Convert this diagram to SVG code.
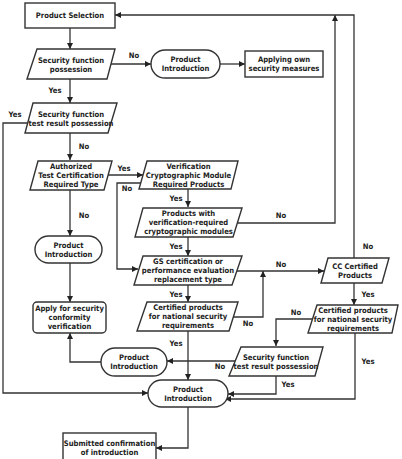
<svg xmlns="http://www.w3.org/2000/svg" width="402" height="459" viewBox="0 0 402 459">
<style>
.n{fill:#fff;stroke:#333;stroke-width:1.4}
.c{fill:none;stroke:#333;stroke-width:1.3}
text{font-family:"DejaVu Sans Condensed","DejaVu Sans",sans-serif;font-weight:bold;font-size:7.6px;fill:#222;text-anchor:middle}
</style>
<defs>
<marker id="a" viewBox="0 0 8 8" refX="8" refY="4" markerWidth="6" markerHeight="6" orient="auto" markerUnits="userSpaceOnUse"><path d="M0,0L8,4L0,8z" fill="#222"/></marker>
</defs>
<rect width="402" height="459" fill="#fff"/>
<g id="connectors">
<path class="c" d="M70,28V49" marker-end="url(#a)"/>
<path class="c" d="M111,64H151" marker-end="url(#a)"/>
<path class="c" d="M220,64H245" marker-end="url(#a)"/>
<path class="c" d="M70,79V103" marker-end="url(#a)"/>
<path class="c" d="M29,123H3V393H148" marker-end="url(#a)"/>
<path class="c" d="M70,133V160" marker-end="url(#a)"/>
<path class="c" d="M108,175H143" marker-end="url(#a)"/>
<path class="c" d="M142,183H117V269H138" marker-end="url(#a)"/>
<path class="c" d="M188,189V207" marker-end="url(#a)"/>
<path class="c" d="M238,223H335V15" marker-end="url(#a)"/>
<path class="c" d="M354,258V15H115" marker-end="url(#a)"/>
<path class="c" d="M188,237V256" marker-end="url(#a)"/>
<path class="c" d="M237,271H324" marker-end="url(#a)"/>
<path class="c" d="M188,285V302" marker-end="url(#a)"/>
<path class="c" d="M233,317H263V271" marker-end="url(#a)"/>
<path class="c" d="M354,283V305" marker-end="url(#a)"/>
<path class="c" d="M312,319H276V346" marker-end="url(#a)"/>
<path class="c" d="M235,361H167" marker-end="url(#a)"/>
<path class="c" d="M276,376V394H228" marker-end="url(#a)"/>
<path class="c" d="M355,333V399H225" marker-end="url(#a)"/>
<path class="c" d="M188,331V380" marker-end="url(#a)"/>
<path class="c" d="M101,362H70V333" marker-end="url(#a)"/>
<path class="c" d="M70,190V236" marker-end="url(#a)"/>
<path class="c" d="M70,263V302" marker-end="url(#a)"/>
<path class="c" d="M188,407V448H156" marker-end="url(#a)"/>
</g>
<g id="labels">
<text x="134" y="58">No</text>
<text x="55" y="93">Yes</text>
<text x="15" y="117">Yes</text>
<text x="84" y="149">No</text>
<text x="124" y="171">Yes</text>
<text x="127" y="191">No</text>
<text x="84" y="218">No</text>
<text x="176" y="201">Yes</text>
<text x="176" y="249">Yes</text>
<text x="281" y="218">No</text>
<text x="281" y="267">No</text>
<text x="368" y="249">No</text>
<text x="368" y="297">Yes</text>
<text x="176" y="297">Yes</text>
<text x="248" y="326">No</text>
<text x="296" y="315">No</text>
<text x="176" y="346">Yes</text>
<text x="368" y="364">Yes</text>
<text x="220" y="369">No</text>
<text x="288" y="387">Yes</text>
</g>
<g id="n1"><rect class="n" x="25" y="3" width="90" height="25"/><text x="70" y="18">Product Selection</text></g>
<g id="n2"><polygon class="n" points="37,49 115,49 107,79 27,79"/><text x="71" y="63">Security function</text><text x="71" y="72">possession</text></g>
<g id="n3"><rect class="n" x="151" y="50" width="69" height="28" rx="14"/><text x="185.5" y="62">Product</text><text x="185.5" y="71">Introduction</text></g>
<g id="n4"><rect class="n" x="245" y="51" width="78" height="26"/><text x="284" y="62">Applying own</text><text x="284" y="71">security measures</text></g>
<g id="n5"><polygon class="n" points="33,103 117,103 108,133 25,133"/><text x="71" y="117">Security function</text><text x="71" y="126">test result possession</text></g>
<g id="n6"><polygon class="n" points="38,161 112,161 104,190 30,190"/><text x="71" y="169">Authorized</text><text x="71" y="178">Test Certification</text><text x="71" y="187">Required Type</text></g>
<g id="n7"><polygon class="n" points="147,161 238,161 231,189 139,189"/><text x="188.5" y="169">Verification</text><text x="188.5" y="178">Cryptographic Module</text><text x="188.5" y="187">Required Products</text></g>
<g id="n8"><polygon class="n" points="143,208 242,208 233,237 135,237"/><text x="188.5" y="216">Products with</text><text x="188.5" y="225">verification-required</text><text x="188.5" y="234">cryptographic modules</text></g>
<g id="n9"><polygon class="n" points="143,256 242,256 232,285 134,285"/><text x="188" y="264">GS certification or</text><text x="188" y="273">performance evaluation</text><text x="188" y="282">replacement type</text></g>
<g id="n10"><polygon class="n" points="328,258 389,258 382,283 321,283"/><text x="355" y="269">CC Certified</text><text x="355" y="278">Products</text></g>
<g id="n11"><polygon class="n" points="317,305 398,305 392,333 308,333"/><text x="353" y="313">Certified products</text><text x="353" y="322">for national security</text><text x="353" y="331">requirements</text></g>
<g id="n12"><polygon class="n" points="241,347 323,347 315,376 229,376"/><text x="276" y="360">Security function</text><text x="276" y="369">test result possession</text></g>
<g id="n13"><polygon class="n" points="147,302 238,302 229,331 137,331"/><text x="188" y="310">Certified products</text><text x="188" y="319">for national security</text><text x="188" y="328">requirements</text></g>
<g id="n14"><rect class="n" x="101" y="348" width="66" height="28" rx="14"/><text x="134" y="360">Product</text><text x="134" y="369">Introduction</text></g>
<g id="n15"><rect class="n" x="33" y="302" width="73" height="31" rx="4"/><text x="69.5" y="311">Apply for security</text><text x="69.5" y="320">conformity</text><text x="69.5" y="329">verification</text></g>
<g id="n16"><rect class="n" x="35" y="236" width="67" height="27" rx="13.5"/><text x="68.5" y="248">Product</text><text x="68.5" y="257">Introduction</text></g>
<g id="n17"><rect class="n" x="148" y="380" width="80" height="27" rx="13.5"/><text x="188" y="392">Product</text><text x="188" y="401">Introduction</text></g>
<g id="n18"><rect class="n" x="63" y="433" width="93" height="30"/><text x="109.5" y="446">Submitted confirmation</text><text x="109.5" y="455">of introduction</text></g>
</svg>
